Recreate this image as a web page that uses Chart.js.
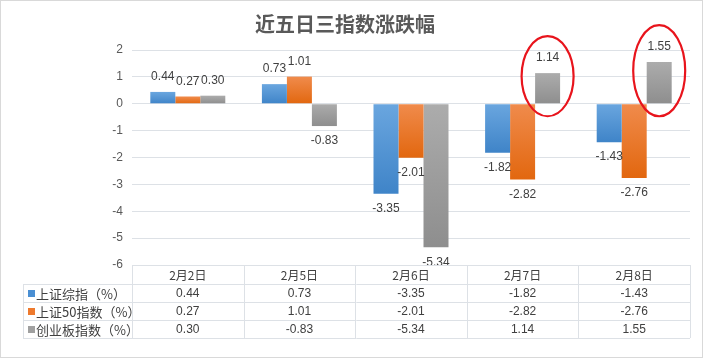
<!DOCTYPE html>
<html>
<head>
<meta charset="utf-8">
<script src="https://cdn.jsdelivr.net/npm/chart.js@4/dist/chart.umd.min.js"></script>
<style>
  html, body { margin: 0; padding: 0; background: #fff; }
  #wrap { width: 705px; height: 359px; position: relative; }
</style>
</head>
<body>
<div id="wrap"><canvas id="chart" width="705" height="359"></canvas></div>
<script>
// ---------- Data ----------
const categories = ['2月2日', '2月5日', '2月6日', '2月7日', '2月8日'];
const seriesNames = ['上证综指（%）', '上证50指数（%）', '创业板指数（%）'];
const shComposite = [0.44, 0.73, -3.35, -1.82, -1.43];
const sh50 = [0.27, 1.01, -2.01, -2.82, -2.76];
const chinext = [0.30, -0.83, -5.34, 1.14, 1.55];
const yTicks = [2, 1, 0, -1, -2, -3, -4, -5, -6];
// bars circled in red on the original (dataset 2, categories 3 and 4)
const circled = [3, 4];

// ---------- Styles ----------
const gradStops = [
  ['#6aa6df', '#3f84c8'],   // blue
  ['#f08b4c', '#e2670f'],   // orange
  ['#acacac', '#8e8e8e']    // gray
];
const keyColors = ['#4a8fd3', '#ee7a2e', '#a0a0a0'];
const textColor = '#404040';
const lineColor = '#dde1e6';
const cjkFont = '"Noto Sans CJK SC", "Noto Sans", sans-serif';

function barGradient(idx) {
  return (ctx) => {
    const chart = ctx.chart;
    const y = chart.scales && chart.scales.y;
    if (!y || ctx.raw === undefined) return gradStops[idx][0];
    const a = y.getPixelForValue(0);
    const b = y.getPixelForValue(ctx.raw);
    if (!isFinite(a) || !isFinite(b)) return gradStops[idx][0];
    const top = Math.min(a, b), bot = Math.max(a, b);
    if (bot - top < 1) return gradStops[idx][0];
    const g = chart.ctx.createLinearGradient(0, top, 0, bot);
    g.addColorStop(0, gradStops[idx][0]);
    g.addColorStop(1, gradStops[idx][1]);
    return g;
  };
}

// ---------- Plugins ----------
const valueLabels = {
  id: 'valueLabels',
  afterDatasetsDraw(chart) {
    const ctx = chart.ctx;
    ctx.save();
    ctx.font = '12px "Liberation Sans", Arial, sans-serif';
    ctx.fillStyle = textColor;
    ctx.textAlign = 'center';
    ctx.textBaseline = 'middle';
    chart.data.datasets.forEach((ds, di) => {
      chart.getDatasetMeta(di).data.forEach((bar, i) => {
        const v = ds.data[i];
        const y = v >= 0 ? bar.y - 15 : bar.y + 15;
        ctx.fillText(v.toFixed(2), bar.x, y);
      });
    });
    ctx.restore();
  }
};

const redCircles = {
  id: 'redCircles',
  afterDatasetsDraw(chart) {
    const ctx = chart.ctx;
    const meta = chart.getDatasetMeta(2);
    ctx.save();
    ctx.strokeStyle = '#e8141c';
    ctx.lineWidth = 2.2;
    circled.forEach(i => {
      const bar = meta.data[i];
      const top = bar.y - 37;
      const bot = bar.base + 13;
      ctx.beginPath();
      ctx.ellipse(bar.x, (top + bot) / 2, 26, (bot - top) / 2, 0, 0, Math.PI * 2);
      ctx.stroke();
    });
    ctx.restore();
  }
};

const dataTable = {
  id: 'dataTable',
  afterDraw(chart) {
    const ctx = chart.ctx;
    const x = chart.scales.x;
    const area = chart.chartArea;
    const rows = [shComposite, sh50, chinext];
    const top = area.bottom;
    const headH = 19, rowH = 18;
    const labelLeft = 23;
    const left = area.left, right = area.right;
    const bottom = top + headH + rowH * rows.length;
    const step = (right - left) / categories.length;

    ctx.save();
    ctx.strokeStyle = lineColor;
    ctx.lineWidth = 1;
    ctx.beginPath();
    // horizontal lines
    ctx.moveTo(left, top + 0.5); ctx.lineTo(right, top + 0.5);
    for (let r = 0; r <= rows.length; r++) {
      const yy = Math.round(top + headH + r * rowH) + 0.5;
      ctx.moveTo(labelLeft, yy); ctx.lineTo(right, yy);
    }
    // vertical lines
    for (let c = 0; c <= categories.length; c++) {
      const xx = Math.round(left + c * step) + 0.5;
      ctx.moveTo(xx, top); ctx.lineTo(xx, bottom);
    }
    ctx.moveTo(labelLeft + 0.5, top + headH); ctx.lineTo(labelLeft + 0.5, bottom);
    ctx.stroke();

    ctx.fillStyle = textColor;
    ctx.textBaseline = 'middle';
    ctx.textAlign = 'center';
    ctx.font = '12px ' + cjkFont;
    categories.forEach((c, i) => {
      ctx.fillText(c, x.getPixelForValue(i), top + headH / 2 + 1);
    });
    ctx.font = '12px "Liberation Sans", Arial, sans-serif';
    rows.forEach((row, r) => {
      const yy = top + headH + r * rowH + rowH / 2 + 1;
      row.forEach((v, i) => ctx.fillText(v.toFixed(2), x.getPixelForValue(i), yy));
    });
    ctx.textAlign = 'left';
    ctx.font = '13px ' + cjkFont;
    seriesNames.forEach((n, r) => {
      const yy = top + headH + r * rowH + rowH / 2 + 1;
      ctx.fillStyle = keyColors[r];
      ctx.fillRect(labelLeft + 5, yy - 4, 7, 7);
      ctx.fillStyle = textColor;
      ctx.fillText(n, labelLeft + 13, yy);
    });

    // outer frame
    ctx.strokeStyle = '#d9d9d9';
    ctx.strokeRect(0.5, 0.5, 702, 357);
    ctx.restore();
  }
};

// ---------- Chart ----------
new Chart(document.getElementById('chart'), {
  type: 'bar',
  data: {
    labels: categories,
    datasets: [
      { label: seriesNames[0], data: shComposite, backgroundColor: barGradient(0) },
      { label: seriesNames[1], data: sh50, backgroundColor: barGradient(1) },
      { label: seriesNames[2], data: chinext, backgroundColor: barGradient(2) }
    ]
  },
  options: {
    responsive: false,
    animation: false,
    layout: { padding: { left: 0, right: 15, bottom: 94 } },
    datasets: { bar: { categoryPercentage: 0.672, barPercentage: 1 } },
    plugins: {
      legend: { display: false },
      tooltip: { enabled: false },
      title: {
        display: true,
        text: '近五日三指数涨跌幅',
        color: '#595959',
        font: { size: 20, weight: 'bold', family: cjkFont, lineHeight: 1.2 },
        padding: { top: 12, bottom: 14 }
      }
    },
    scales: {
      x: { display: false },
      y: {
        min: -6,
        max: 2,
        afterFit(scale) { scale.width = 132; },
        afterBuildTicks(scale) { scale.ticks = yTicks.map(v => ({ value: v })); },
        border: { display: false },
        grid: { color: lineColor, drawTicks: false },
        ticks: {
          padding: 9,
          color: '#595959',
          font: { size: 12, family: '"Liberation Sans", Arial, sans-serif' }
        }
      }
    }
  },
  plugins: [valueLabels, redCircles, dataTable]
});
</script>
</body>
</html>
